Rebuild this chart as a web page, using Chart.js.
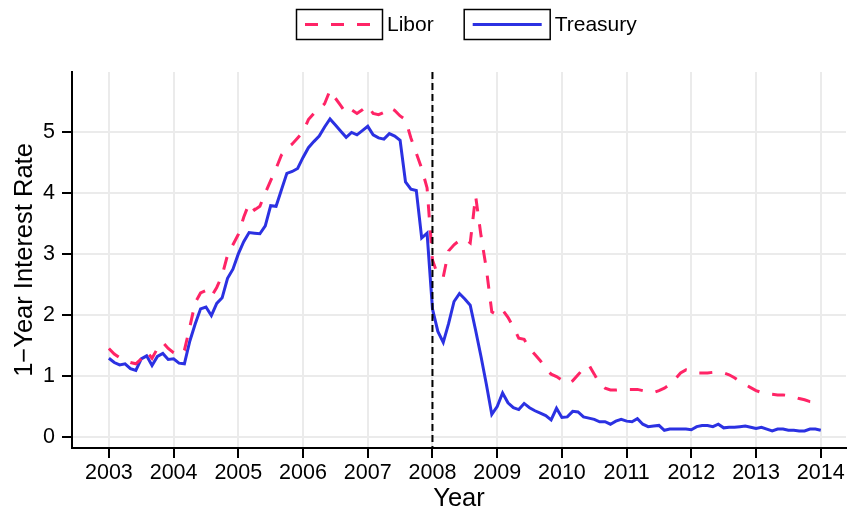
<!DOCTYPE html>
<html>
<head>
<meta charset="utf-8">
<script src="https://cdn.jsdelivr.net/npm/chart.js@4.4.0/dist/chart.umd.min.js"></script>
<style>
  body { margin: 0; background: #fff; }
  canvas { display: block; }
</style>
</head>
<body>
<canvas id="myChart" width="848" height="514"></canvas>
<script>
// monthly series, first value is Jan 2003
const startYear = 2003
const breakYear = 2008

const libor = [
  1.45, 1.36, 1.30, 1.26, 1.22, 1.20, 1.28, 1.40, 1.29, 1.45, 1.55, 1.45,
  1.38, 1.34, 1.42, 1.80, 2.20, 2.36, 2.40, 2.30, 2.45, 2.65, 2.98, 3.15,
  3.32, 3.60, 3.83, 3.72, 3.78, 4.00, 4.20, 4.40, 4.62, 4.73, 4.80, 4.90,
  5.00, 5.20, 5.30, 5.37, 5.46, 5.68, 5.55, 5.43, 5.30, 5.36, 5.30, 5.36,
  5.43, 5.30, 5.28, 5.32, 5.40, 5.35, 5.26, 5.20, 4.90, 4.65, 4.40, 4.08,
  2.90, 2.65, 2.62, 3.05, 3.15, 3.22, 3.25, 3.18, 3.95, 3.30, 2.75, 2.05,
  2.00, 2.08, 1.96, 1.80, 1.62, 1.60, 1.45, 1.35, 1.25, 1.12, 1.03, 0.99,
  0.93, 0.87, 0.92, 1.02, 1.12, 1.18, 1.03, 0.87, 0.80, 0.77, 0.77, 0.78,
  0.78, 0.78, 0.78, 0.76, 0.74, 0.73, 0.76, 0.80, 0.86, 0.95, 1.05, 1.10,
  1.08, 1.05, 1.05, 1.05, 1.06, 1.05, 1.05, 1.02, 0.97, 0.91, 0.86, 0.81,
  0.76, 0.73, 0.71, 0.70, 0.69, 0.69, 0.68, 0.66, 0.63, 0.61, 0.58, 0.57
]

const treasury = [
  1.29, 1.22, 1.18, 1.20, 1.12, 1.09, 1.28, 1.33, 1.17, 1.32, 1.37, 1.27,
  1.28, 1.21, 1.20, 1.57, 1.85, 2.10, 2.13, 1.99, 2.19, 2.28, 2.60, 2.75,
  3.00, 3.20, 3.35, 3.34, 3.33, 3.46, 3.79, 3.78, 4.05, 4.32, 4.35, 4.40,
  4.58, 4.74, 4.84, 4.93, 5.08, 5.21, 5.11, 5.01, 4.91, 4.99, 4.95, 5.02,
  5.09, 4.95, 4.90, 4.88, 4.97, 4.93, 4.86, 4.18, 4.06, 4.04, 3.26, 3.34,
  2.10, 1.73, 1.55, 1.86, 2.22, 2.35, 2.26, 2.16, 1.75, 1.32, 0.86, 0.37,
  0.50, 0.72, 0.56, 0.48, 0.45, 0.55, 0.48, 0.43, 0.39, 0.35, 0.28, 0.47,
  0.32, 0.33, 0.42, 0.41, 0.33, 0.31, 0.29, 0.25, 0.25, 0.21, 0.26, 0.29,
  0.26, 0.25, 0.30, 0.21, 0.17, 0.18, 0.19, 0.11, 0.13, 0.13, 0.13, 0.13,
  0.12, 0.17, 0.19, 0.19, 0.17, 0.21, 0.15, 0.16, 0.16, 0.17, 0.18, 0.16,
  0.14, 0.16, 0.13, 0.10, 0.13, 0.13, 0.11, 0.11, 0.10, 0.10, 0.13, 0.13,
  0.11
]

const fontFamily = '"Liberation Sans", Arial, Helvetica, sans-serif'
Chart.defaults.font.family = fontFamily
Chart.defaults.color = '#000'

const toPoints = arr => arr.map((v, i) => ({ x: startYear + i / 12, y: v }))

// dashed vertical marker
const breakLine = {
  id: 'breakLine',
  afterDatasetsDraw(chart) {
    const { ctx, chartArea, scales } = chart
    const x = scales.x.getPixelForValue(breakYear)
    ctx.save()
    ctx.strokeStyle = '#000'
    ctx.lineWidth = 2
    ctx.setLineDash([7, 4])
    ctx.beginPath()
    ctx.moveTo(x, chartArea.top)
    ctx.lineTo(x, chartArea.bottom)
    ctx.stroke()
    ctx.restore()
  }
}

// legend with framed keys, like the original
const boxLegend = {
  id: 'boxLegend',
  afterDraw(chart) {
    const ctx = chart.ctx
    let x = 296
    ctx.save()
    ctx.font = '21px ' + fontFamily
    ctx.textBaseline = 'middle'
    chart.data.datasets.forEach(ds => {
      ctx.setLineDash([])
      ctx.lineWidth = 1.5
      ctx.strokeStyle = '#000'
      ctx.strokeRect(x + 0.5, 9.5, 86, 30)
      ctx.beginPath()
      ctx.setLineDash(ds.borderDash || [])
      ctx.strokeStyle = ds.borderColor
      ctx.lineWidth = 3
      ctx.moveTo(x + 9, 24.5)
      ctx.lineTo(x + 78, 24.5)
      ctx.stroke()
      ctx.fillStyle = '#000'
      ctx.fillText(ds.label, x + 91, 25)
      x += 91 + ctx.measureText(ds.label).width + 30
    })
    ctx.restore()
  }
}

const gridOpts = { color: '#ebebeb', lineWidth: 2, tickColor: '#000', tickLength: 10, tickWidth: 2 }
const borderOpts = { color: '#000', width: 2 }

var ctx = document.getElementById('myChart')
new Chart(ctx, {
  type: 'line',
  data: {
    datasets: [
      {
        label: 'Libor',
        data: toPoints(libor),
        borderColor: '#ff2466',
        borderWidth: 3,
        borderDash: [13, 13],
        pointRadius: 0,
        fill: false,
        tension: 0
      },
      {
        label: 'Treasury',
        data: toPoints(treasury),
        borderColor: '#2b31e2',
        borderWidth: 3,
        pointRadius: 0,
        fill: false,
        tension: 0
      }
    ]
  },
  options: {
    responsive: false,
    animation: false,
    layout: { padding: { top: 72, right: 2, left: 0, bottom: 0 } },
    plugins: { legend: { display: false }, tooltip: { enabled: false } },
    scales: {
      x: {
        type: 'linear',
        min: 2002.43,
        max: 2014.39,
        afterFit: s => { s.height = 66 },
        ticks: {
          stepSize: 1,
          includeBounds: false,
          autoSkip: false,
          maxRotation: 0,
          padding: 2,
          font: { size: 21.5 },
          callback: v => String(v)
        },
        grid: gridOpts,
        border: borderOpts,
        title: { display: true, text: 'Year', font: { size: 25.5 }, padding: { top: 0, bottom: 0 } }
      },
      y: {
        min: -0.18,
        max: 5.98,
        afterFit: s => { s.width = 72 },
        ticks: { stepSize: 1, includeBounds: false, padding: 7, font: { size: 21.5 } },
        grid: gridOpts,
        border: borderOpts,
        title: { display: true, text: '1−Year Interest Rate', font: { size: 25.5 }, padding: { top: 10, bottom: 0 } }
      }
    }
  },
  plugins: [breakLine, boxLegend]
})
</script>
</body>
</html>
